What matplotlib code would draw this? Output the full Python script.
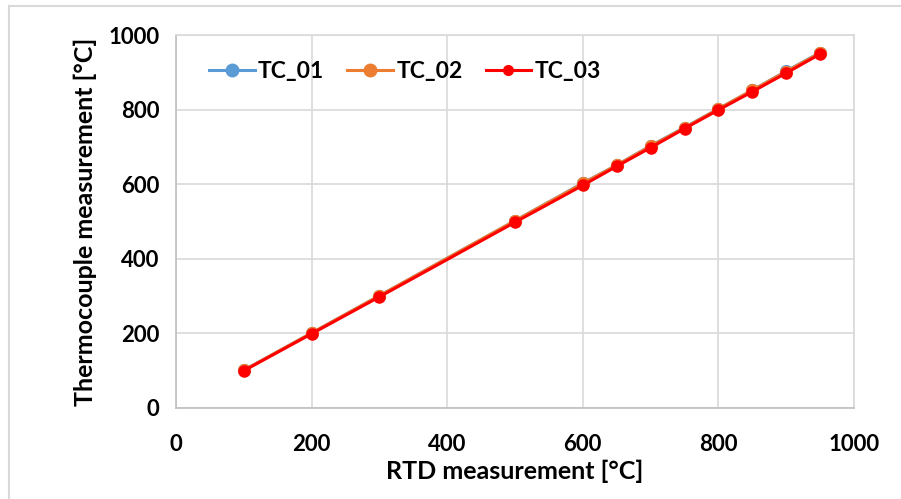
import matplotlib.pyplot as plt
from matplotlib.lines import Line2D

plt.rc('font', family=['Lato', 'DejaVu Sans'])
plt.rc('font', weight='bold')
plt.rc('axes', labelweight='bold')

# RTD reference temperatures and thermocouple readings
rtd = [100, 200, 300, 500, 600, 650, 700, 750, 800, 850, 900, 950]
tc_01 = [101, 201, 301, 502, 603, 651, 703, 752, 802, 852, 903, 953]
tc_02 = [101, 201, 301, 502, 602, 651, 702, 751, 802, 852, 902, 952]
tc_03 = [100, 199, 298, 498, 597, 648, 698, 749, 799, 848, 898, 949]

names = ['TC_01', 'TC_02', 'TC_03']
colors = ['#5b9bd5', '#ed7d31', '#ff0000']
xticks = [0, 200, 400, 600, 800, 1000]
yticks = [0, 200, 400, 600, 800, 1000]

fig = plt.figure(figsize=(9.01, 4.99), dpi=100)
ax = fig.add_axes([176 / 901, 1 - 408 / 499, (854 - 176) / 901, (408 - 35) / 499])

for series, name, col in zip([tc_01, tc_02, tc_03], names, colors):
    ms = 8.5 if name != 'TC_03' else 8
    ax.plot(rtd, series, color=col, lw=2.2, marker='o', ms=ms, label=name, zorder=3)

ax.set_xlim(0, 1000)
ax.set_ylim(0, 1000)
ax.set_xticks(xticks)
ax.set_yticks(yticks)
ax.grid(True, color='#d9d9d9', lw=1.2)
ax.set_axisbelow(True)
for s in ax.spines.values():
    s.set_color('#d9d9d9')
    s.set_linewidth(1.2)
ax.spines['left'].set_color('#bfbfbf')
ax.spines['bottom'].set_color('#bfbfbf')
ax.tick_params(length=0, labelsize=16, colors='#000000', pad=12)
ax.tick_params(axis='x', pad=19)

ax.set_xlabel('RTD measurement [°C]', fontsize=18, labelpad=3)
ax.set_ylabel('Thermocouple measurement [°C]', fontsize=18, labelpad=8)

handles = [Line2D([], [], color=c, lw=2.2, marker='o', ms=9 if i < 2 else 7)
           for i, c in enumerate(colors)]
ax.legend(handles, names, loc='upper left', ncol=3, frameon=False, fontsize=16.5,
          handlelength=2.0, handletextpad=0.15, columnspacing=1.0,
          bbox_to_anchor=(0.018, 0.985))

# thin grey frame around the chart
fig.add_artist(Line2D([9 / 901, 9 / 901], [0, 1 - 6 / 499], color='#d9d9d9', lw=1.5))
fig.add_artist(Line2D([9 / 901, 1], [1 - 6 / 499, 1 - 6 / 499], color='#d9d9d9', lw=1.5))

fig.savefig('out.png', dpi=100)
